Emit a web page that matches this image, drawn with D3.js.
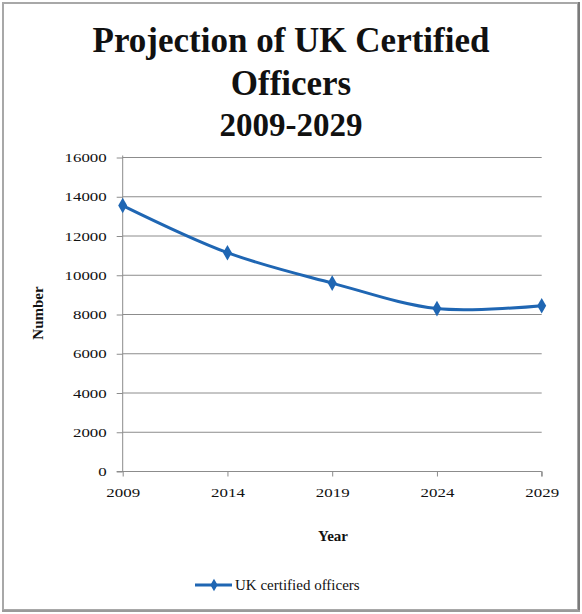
<!DOCTYPE html>
<html>
<head>
<meta charset="utf-8">
<script src="https://cdn.jsdelivr.net/npm/d3@7/dist/d3.min.js"></script>
<style>
  html, body { margin: 0; padding: 0; background: #fff; }
  svg { display: block; }
  text { font-family: "Liberation Serif", "DejaVu Serif", serif; fill: #111; }
</style>
</head>
<body>
<script>
const years = [2009, 2014, 2019, 2024, 2029];
const officers = [13550, 11150, 9600, 8300, 8450];
const yTicks = [0, 2000, 4000, 6000, 8000, 10000, 12000, 14000, 16000];
const titleLines = ["Projection of UK Certified", "Officers", "2009-2029"];
const seriesName = "UK certified officers";

const W = 582, H = 614;
const svg = d3.select("body").append("svg").attr("width", W).attr("height", H);

// outer frame
svg.append("rect").attr("x", 3).attr("y", 3).attr("width", 575).attr("height", 607)
  .attr("fill", "#fff").attr("stroke", "#a8a8a8").attr("stroke-width", 2);
svg.append("line").attr("x1", 579).attr("x2", 579).attr("y1", 2).attr("y2", 612)
  .attr("stroke", "#7a7a7a").attr("stroke-width", 2);
svg.append("line").attr("x1", 2).attr("x2", 580).attr("y1", 611).attr("y2", 611)
  .attr("stroke", "#9a9a9a").attr("stroke-width", 2);

// title
const titleY = [52, 95, 136];
titleLines.forEach((t, i) => {
  svg.append("text").attr("x", 291).attr("y", titleY[i])
    .attr("text-anchor", "middle").attr("font-weight", "bold")
    .attr("font-size", i === 2 ? 33 : 35).text(t);
});

const x = d3.scaleLinear().domain([2009, 2029]).range([122.7, 541.7]);
const y = d3.scaleLinear().domain([0, 16000]).range([471.5, 157.5]);

// gridlines
svg.append("g").selectAll("line").data(yTicks.filter(d => d > 0)).join("line")
  .attr("x1", x(2009)).attr("x2", x(2029))
  .attr("y1", d => y(d)).attr("y2", d => y(d))
  .attr("stroke", "#8c8c8c").attr("stroke-width", 1);

// y axis
const yAxis = svg.append("g").attr("transform", `translate(${x(2009)},0)`)
  .call(d3.axisLeft(y).tickValues(yTicks).tickSize(6).tickPadding(9).tickFormat(d3.format("d")));
yAxis.attr("font-family", null);
yAxis.select(".domain").attr("stroke", "#8c8c8c").attr("d", `M-0,${y(16000)-2}V${y(0)}`);
yAxis.selectAll(".tick line").attr("stroke", "#8c8c8c");
yAxis.selectAll(".tick text").attr("font-size", 12.5).attr("fill", "#222")
  .attr("transform", "scale(1.35,1)").attr("x", -16 / 1.35);

// x axis
const xAxis = svg.append("g").attr("transform", `translate(0,${y(0)})`)
  .call(d3.axisBottom(x).tickValues(years).tickSize(5).tickPadding(12).tickFormat(d3.format("d")));
xAxis.attr("font-family", null);
xAxis.select(".domain").attr("stroke", "#8c8c8c").attr("d", `M${x(2009)-6},0H${x(2029)}V5`);
xAxis.selectAll(".tick line").attr("stroke", "#8c8c8c");
xAxis.selectAll(".tick text").attr("font-size", 12.5).attr("fill", "#222")
  .attr("transform", "scale(1.35,1)").attr("x", 0);

// axis titles
svg.append("text").attr("transform", "translate(43,313) rotate(-90)")
  .attr("text-anchor", "middle").attr("font-weight", "bold").attr("font-size", 15)
  .text("Number");
svg.append("text").attr("x", 333).attr("y", 541)
  .attr("text-anchor", "middle").attr("font-weight", "bold").attr("font-size", 15)
  .text("Year");

// series
const color = "#1f66b3";
const data = years.map((yr, i) => ({ yr, v: officers[i] }));
const line = d3.line().x(d => x(d.yr)).y(d => y(d.v)).curve(d3.curveCatmullRom.alpha(0));
svg.append("path").datum(data).attr("d", line)
  .attr("fill", "none").attr("stroke", color).attr("stroke-width", 3);
const diamond = d3.symbol().type(d3.symbolDiamond).size(70);
svg.append("g").selectAll("path").data(data).join("path")
  .attr("transform", d => `translate(${x(d.yr)},${y(d.v)})`)
  .attr("d", diamond).attr("fill", color);

// legend
svg.append("line").attr("x1", 195).attr("x2", 232).attr("y1", 585).attr("y2", 585)
  .attr("stroke", color).attr("stroke-width", 3);
svg.append("path").attr("transform", "translate(214,585)")
  .attr("d", d3.symbol().type(d3.symbolDiamond).size(45)).attr("fill", color);
svg.append("text").attr("x", 235).attr("y", 590).attr("font-size", 15)
  .attr("fill", "#333").text(seriesName);
</script>
</body>
</html>
